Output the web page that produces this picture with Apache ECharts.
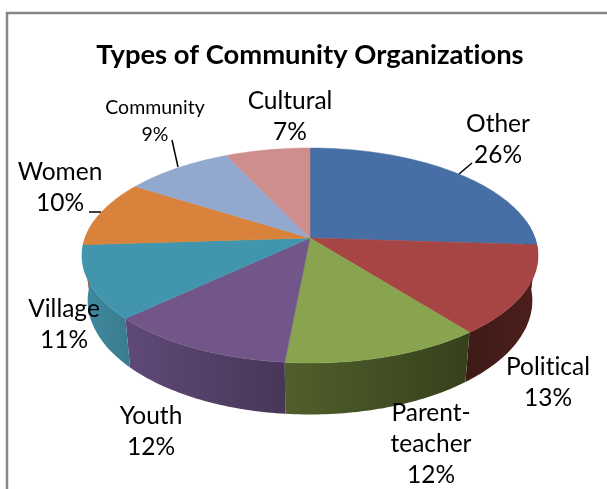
<!DOCTYPE html>
<html><head><meta charset="utf-8">
<style>html,body{margin:0;padding:0;background:#fff}#c{width:607px;height:489px}</style>
<script src="https://cdn.jsdelivr.net/npm/echarts@6/dist/echarts.min.js"></script>
</head><body><div id="c"></div>
<script>
const categories = ['Other','Political','Parent-teacher','Youth','Village','Women','Community','Cultural'];
const values = [26, 13.4, 12.1, 11.5, 11, 10, 9, 7];
const titleText = 'Types of Community Organizations';

const topColors = ['#466fa5','#a64543','#88a44e','#725589','#4196ae','#d9823b','#92a8cf','#cf8e8e'];
const wallColors = [['#2d4a70','#2d4a70'],['#3e1a17','#4d1f1c'],['#505f2b','#36411c'],['#5f4a78','#473657'],['#3f8aa0','#3a7b8e'],['#a8642c','#a8642c'],['#6d80a0','#6d80a0'],['#a06c6c','#a06c6c']];
const labelLayout = [
  {x:498,y:140,size:24.5},{x:548,y:383,size:24.5},{x:431,y:444,size:24.5,text:'Parent-\nteacher'},{x:151,y:432,size:24.5},
  {x:64,y:325,size:24.5},{x:60,y:188,size:24.5},{x:155,y:121,size:19.5,lh:27},{x:290,y:117,size:24.5}
];
const leaders = {0:[[459,174],[472,163]],5:[[89,212],[101,212]],6:[[172,140],[178,167]]};

// no "ti" ligatures: the reference's font draws those letters apart
const rawGetContext=HTMLCanvasElement.prototype.getContext;
HTMLCanvasElement.prototype.getContext=function(){
  const ctx=rawGetContext.apply(this,arguments);
  if(ctx&&'textRendering' in ctx)ctx.textRendering='optimizeSpeed';
  return ctx;
};

// projection of the tilted disc
const cx=310, cy=238, A=225, B=104.65, K=0.1628;
function rim(deg){
  const a=deg*Math.PI/180,u=Math.sin(a),v=Math.cos(a),d=1+K*v;
  return [A*u/d, -B*v/d];
}
const topPt=p=>[cx+p[0],cy+p[1]];
const lowPt=p=>[cx+0.975*p[0],cy+44+1.06*p[1]];
function arc(s,e){const n=Math.max(2,Math.ceil((e-s)/1)),o=[];for(let i=0;i<=n;i++)o.push(rim(s+(e-s)*i/n));return o;}

const total=values.reduce((a,b)=>a+b,0);
let acc=0;
const slices=values.map((v,i)=>{const s=acc/total*360;acc+=v;return [i,v,s,acc/total*360];});

const option={
  animation:false,
  backgroundColor:'#fff',
  title:{text:titleText,left:305,top:37,textAlign:'center',textStyle:{fontFamily:'Lato',fontWeight:'bold',fontSize:27.4,color:'#000'}},
  graphic:[{type:'rect',z:-1,shape:{x:7,y:13,width:640,height:520},style:{fill:'#fff',stroke:'#868686',lineWidth:2.5}}],
  series:[
    {type:'custom',coordinateSystem:'none',z:2,silent:true,data:slices,renderItem(p,api){
      const i=api.value(0),s=Math.max(api.value(2),80),e=Math.min(api.value(3),280);
      if(e<=s)return {type:'group',children:[]};
      const a=arc(s,e),pts=a.map(topPt).concat(a.slice().reverse().map(lowPt));
      return {type:'polygon',shape:{points:pts},style:{
        fill:new echarts.graphic.LinearGradient(0,0,1,0,[{offset:0,color:wallColors[i][0]},{offset:1,color:wallColors[i][1]}]),
        stroke:null}};
    }},
    {type:'custom',coordinateSystem:'none',z:3,silent:true,data:slices,renderItem(p,api){
      const i=api.value(0),a=arc(api.value(2),api.value(3));
      return {type:'polygon',shape:{points:[[cx,cy]].concat(a.map(topPt))},style:{fill:topColors[i],stroke:topColors[i],lineWidth:0.5}};
    }},
    {type:'custom',coordinateSystem:'none',z:4,silent:true,data:slices,renderItem(p,api){
      const i=api.value(0),L=labelLayout[i],kids=[];
      kids.push({type:'text',style:{x:L.x,y:L.y,text:(L.text||categories[i])+'\n'+Math.round(api.value(1))+'%',
        fontFamily:'Lato',fontSize:L.size,lineHeight:L.lh||31,fill:'#000',align:'center',verticalAlign:'middle'}});
      if(leaders[i])kids.push({type:'polyline',shape:{points:leaders[i]},style:{fill:null,stroke:'#000',lineWidth:1.5}});
      return {type:'group',children:kids};
    }}
  ]
};
echarts.init(document.getElementById('c'),null,{renderer:'canvas'}).setOption(option);
</script></body></html>
